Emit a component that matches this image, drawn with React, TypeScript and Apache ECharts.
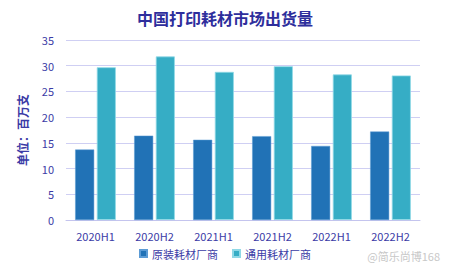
import React, { useEffect, useRef } from "react";
import * as echarts from "echarts";

const categories = ["2020H1", "2020H2", "2021H1", "2021H2", "2022H1", "2022H2"];
const originalVendors = [13.7, 16.4, 15.6, 16.3, 14.4, 17.2];
const genericVendors = [29.7, 31.8, 28.8, 29.9, 28.3, 28.1];
const seriesNames = ["原装耗材厂商", "通用耗材厂商"];

const labelColor = "#3b3ba6";
const font = "'Noto Sans CJK SC', 'Noto Sans', sans-serif";

export default function App() {
  const ref = useRef<HTMLDivElement>(null);
  useEffect(() => {
    if (!ref.current) return;
    document.body.style.margin = "0";
    const chart = echarts.init(ref.current, null, { renderer: "svg" });
    chart.setOption({
      animation: false,
      backgroundColor: "#ffffff",
      title: {
        text: "中国打印耗材市场出货量",
        left: "center",
        top: 5,
        textStyle: { color: "#2e2e9c", fontSize: 16, fontWeight: "bold", fontFamily: font },
      },
      legend: {
        bottom: 3,
        left: "center",
        itemWidth: 7,
        itemHeight: 7,
        itemGap: 14,
        icon: "rect",
        textStyle: { color: labelColor, fontSize: 11, fontFamily: font },
        data: seriesNames,
      },
      grid: { left: 66, right: 30, top: 40, bottom: 47 },
      xAxis: {
        type: "category",
        data: categories,
        axisLine: { lineStyle: { color: "#c4c4ee" } },
        axisTick: { show: false },
        axisLabel: { color: labelColor, fontSize: 11, margin: 10, fontFamily: font },
      },
      yAxis: {
        type: "value",
        min: 0,
        max: 35,
        interval: 5,
        name: "单位：百万支",
        nameLocation: "middle",
        nameGap: 38,
        nameRotate: 90,
        nameTextStyle: { color: labelColor, fontSize: 12, fontWeight: "bold", fontFamily: font },
        axisLabel: { color: labelColor, fontSize: 11, margin: 12, fontFamily: font },
        axisLine: { show: false },
        axisTick: { show: false },
        splitLine: { lineStyle: { color: "#cfcff3", width: 1.2 } },
      },
      series: [
        {
          name: seriesNames[0],
          type: "bar",
          data: originalVendors,
          barWidth: 19,
          barGap: "14%",
          itemStyle: { color: "#2172b6", borderColor: "#5b9bd5", borderWidth: 0.5 },
        },
        {
          name: seriesNames[1],
          type: "bar",
          data: genericVendors,
          barWidth: 19,
          itemStyle: { color: "#36adc5", borderColor: "#8fd8e6", borderWidth: 0.8 },
        },
      ],
      graphic: [
        {
          type: "text",
          right: 10,
          bottom: 6,
          style: {
            text: "@简乐尚博168",
            fill: "#c8c8c8",
            fontSize: 11,
            fontFamily: font,
          },
        },
      ],
    });
    return () => chart.dispose();
  }, []);
  return <div ref={ref} style={{ width: 450, height: 267 }} />;
}
